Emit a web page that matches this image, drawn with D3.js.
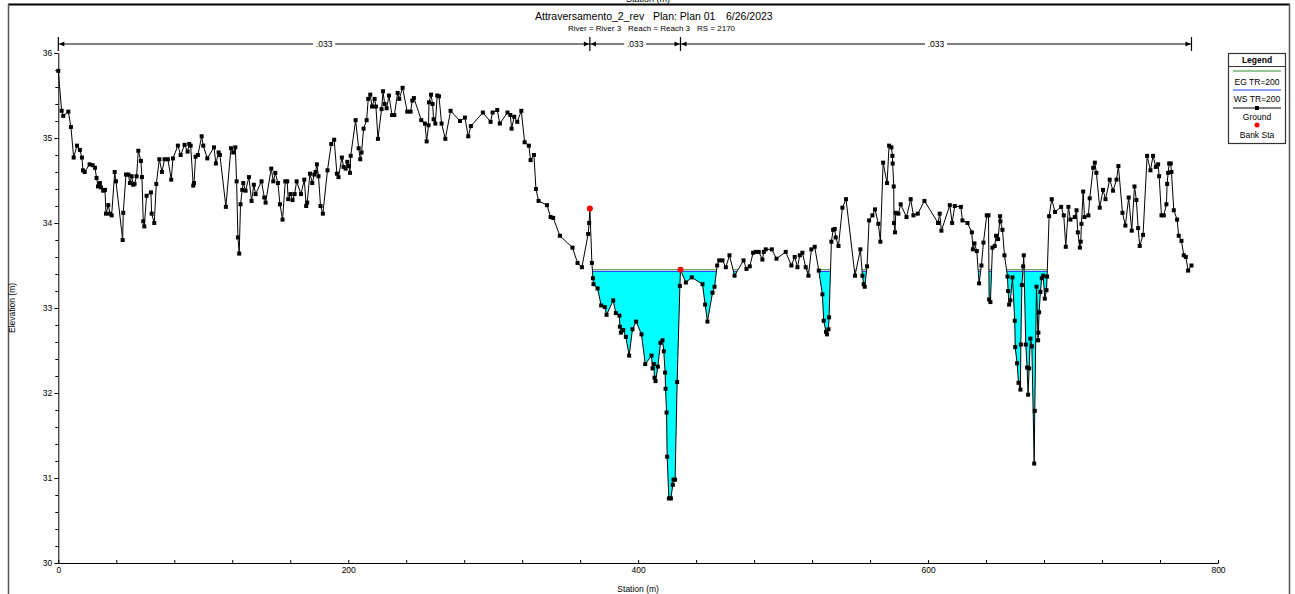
<!DOCTYPE html>
<html>
<head>
<meta charset="utf-8">
<script src="https://cdn.jsdelivr.net/npm/d3@7"></script>
<style>
  body { margin: 0; background: #fff; }
  svg text { font-family: "Liberation Sans", Arial, sans-serif; fill: #000; }
</style>
</head>
<body>
<svg id="chart" width="1295" height="594"></svg>
<script>
// ground points [station (m), elevation (m)]
var ground = [
  [0.0,35.79],[2.3,35.32],[3.4,35.26],[6.9,35.31],[8.7,35.13],[10.6,34.77],[12.9,34.91],[14.9,34.86],[16.3,34.77],[17.0,34.62],
  [18.2,34.60],[21.6,34.69],[23.7,34.68],[25.3,34.65],[26.4,34.53],[27.4,34.43],[28.7,34.47],[29.4,34.42],[31.0,34.38],[32.2,34.39],
  [32.9,34.11],[34.5,34.21],[35.6,34.11],[36.8,34.09],[38.9,34.60],[39.8,34.49],[44.4,33.80],[44.8,34.12],[46.7,34.57],[48.3,34.57],
  [49.4,34.47],[50.6,34.55],[51.7,34.45],[52.6,34.46],[54.0,34.55],[55.2,34.85],[57.0,34.73],[57.7,34.54],[58.6,34.02],[59.3,33.96],
  [60.9,34.32],[63.9,34.36],[64.4,34.11],[66.2,34.00],[67.6,34.46],[69.7,34.75],[71.5,34.60],[73.3,34.75],[75.6,34.75],[77.9,34.51],
  [79.1,34.76],[82.5,34.91],[84.4,34.80],[87.1,34.92],[89.2,34.84],[90.3,34.93],[91.3,34.91],[93.1,34.44],[93.6,34.47],[94.7,34.78],
  [96.3,34.80],[98.9,35.02],[100.0,34.91],[102.8,34.76],[107.4,34.89],[108.7,34.70],[110.6,34.83],[111.5,34.80],[115.6,34.19],[119.1,34.88],
  [120.7,34.83],[122.1,34.89],[123.0,34.49],[123.9,33.83],[124.8,33.64],[125.7,34.22],[126.9,34.39],[127.6,34.47],[129.2,34.38],[131.5,34.54],
  [133.3,34.26],[134.9,34.45],[136.1,34.34],[140.2,34.49],[142.1,34.30],[143.0,34.24],[146.9,34.64],[148.3,34.49],[149.7,34.59],[151.5,34.47],
  [152.9,34.22],[154.7,34.04],[156.6,34.49],[157.9,34.49],[158.6,34.28],[160.2,34.34],[161.6,34.27],[163.0,34.34],[164.4,34.49],[167.4,34.34],
  [169.7,34.51],[171.0,34.20],[171.7,34.24],[173.6,34.58],[175.2,34.47],[176.6,34.57],[177.5,34.60],[178.4,34.69],[179.5,34.55],[180.9,34.20],
  [182.5,34.11],[185.7,34.62],[188.3,34.93],[190.3,34.98],[192.2,34.58],[193.3,34.54],[195.6,34.77],[196.8,34.66],[198.2,34.64],[199.4,34.72],
  [200.5,34.67],[201.2,34.59],[201.7,34.79],[205.1,35.21],[207.2,34.88],[208.3,34.75],[209.2,34.83],[210.6,35.11],[212.7,35.21],[213.8,35.46],
  [215.2,35.51],[216.4,35.37],[218.2,35.46],[219.1,35.37],[220.5,34.99],[223.0,35.34],[224.0,35.55],[225.1,35.40],[226.5,35.35],[228.1,35.50],
  [230.2,35.27],[231.8,35.27],[234.1,35.53],[235.2,35.46],[237.5,35.59],[240.7,35.31],[243.0,35.31],[244.2,35.44],[245.3,35.47],[250.4,35.21],
  [252.9,35.17],[254.1,34.96],[255.4,35.15],[255.7,35.42],[257.1,35.51],[258.2,35.40],[258.9,35.22],[260.1,35.17],[261.4,35.50],[262.6,35.49],
  [264.4,35.17],[267.0,34.99],[270.6,35.32],[277.1,35.20],[280.5,35.24],[282.8,35.02],[284.6,35.14],[292.9,35.30],[298.2,35.19],[299.6,35.30],
  [302.8,35.33],[304.6,35.17],[309.9,35.30],[311.8,35.27],[312.7,35.11],[314.5,35.25],[316.6,35.19],[319.4,35.32],[321.7,34.95],[324.6,34.91],
  [325.8,34.74],[328.1,34.80],[329.5,34.40],[331.3,34.26],[337.1,34.21],[339.6,34.07],[341.4,34.06],[346.0,33.85],[354.7,33.71],[358.2,33.53],
  [361.2,33.48],[365.5,33.87],[366.2,34.00],[366.7,34.17],[368.1,33.53],[368.8,33.35],[369.2,33.28],[372.0,33.23],[374.5,33.03],[377.0,33.01],
  [378.2,32.92],[382.8,33.09],[384.6,32.94],[387.1,32.91],[387.4,32.78],[388.1,32.71],[389.7,32.74],[391.5,32.66],[393.8,32.44],[396.1,32.75],
  [398.6,32.84],[402.3,32.69],[404.9,32.34],[409.2,32.44],[409.9,32.29],[410.8,32.34],[411.3,32.18],[412.0,32.14],[413.6,32.31],[415.4,32.59],
  [416.8,32.62],[417.7,32.49],[418.6,32.24],[418.9,32.05],[419.6,31.77],[420.0,31.25],[421.2,30.76],[422.6,30.76],[423.9,30.92],[424.4,30.98],
  [425.5,30.98],[426.9,32.13],[428.8,33.26],[429.2,33.45],[432.9,33.30],[437.0,33.36],[444.4,33.28],[446.2,33.04],[447.8,32.84],[451.3,33.18],
  [452.7,33.25],[454.5,33.50],[455.9,33.56],[458.2,33.56],[460.5,33.48],[463.0,33.62],[466.5,33.38],[472.7,33.56],[474.7,33.46],[477.0,33.49],
  [479.3,33.65],[481.1,33.66],[483.2,33.66],[485.7,33.57],[486.7,33.66],[488.0,33.69],[492.2,33.69],[495.4,33.58],[501.8,33.66],[505.7,33.50],
  [508.0,33.60],[509.9,33.48],[511.5,33.62],[513.3,33.65],[515.6,33.48],[517.5,33.38],[519.5,33.69],[521.8,33.72],[524.6,33.44],[527.1,33.16],
  [528.0,32.85],[529.6,32.72],[530.3,32.69],[531.3,32.75],[531.7,32.89],[533.3,33.78],[534.5,33.92],[535.6,33.93],[536.3,33.83],[538.2,33.73],
  [540.9,34.18],[543.4,34.28],[549.6,33.38],[553.3,33.69],[554.7,33.38],[555.6,33.28],[556.3,33.25],[557.9,33.49],[559.3,34.03],[561.6,34.09],
  [563.4,34.16],[565.7,33.99],[567.1,33.78],[569.0,34.71],[571.7,34.47],[573.1,34.91],[574.7,34.89],[575.4,34.79],[575.6,34.70],[576.3,34.43],
  [576.5,34.00],[577.2,33.89],[577.7,34.12],[579.5,34.11],[581.1,34.22],[585.1,34.07],[588.0,34.28],[589.9,34.09],[592.9,34.11],[597.5,34.26],
  [606.9,34.00],[608.0,34.11],[609.2,33.91],[615.0,34.21],[616.6,34.00],[618.4,34.20],[622.6,34.19],[623.7,34.03],[627.2,34.00],[630.2,33.89],
  [630.9,33.69],[632.0,33.76],[633.6,33.67],[635.2,33.29],[636.8,33.50],[638.2,33.77],[640.5,34.09],[641.7,34.09],[642.1,33.10],[643.0,33.07],
  [644.4,33.71],[646.0,33.73],[646.9,33.85],[648.3,33.81],[649.7,34.08],[649.9,34.02],[651.3,33.92],[652.7,33.62],[654.8,33.37],[655.2,33.20],
  [655.9,33.04],[656.8,33.09],[658.2,33.36],[659.8,32.85],[660.1,32.54],[661.4,32.35],[662.4,32.12],[663.7,32.04],[664.0,32.57],[664.7,33.27],
  [665.6,33.49],[666.0,33.62],[667.4,32.57],[668.3,32.30],[669.0,31.98],[669.7,32.29],[670.6,32.64],[671.6,32.55],[673.2,31.17],[673.6,31.79],
  [674.8,33.25],[675.9,32.62],[676.1,32.71],[676.6,32.95],[677.5,33.19],[678.4,33.35],[679.4,33.38],[680.5,33.11],[681.7,33.21],[682.1,33.37],
  [683.5,34.08],[685.3,34.28],[687.6,34.13],[691.8,34.19],[693.6,34.09],[695.0,33.72],[696.8,34.19],[698.2,34.04],[701.2,34.07],[702.4,34.15],
  [703.3,33.89],[704.7,33.71],[705.3,33.78],[705.8,33.99],[707.0,34.37],[707.9,34.07],[710.6,34.09],[711.5,34.29],[713.9,34.65],[715.0,34.71],
  [716.1,34.59],[718.4,34.18],[720.7,34.39],[722.4,34.28],[725.3,34.51],[727.6,34.38],[730.0,34.51],[731.3,34.67],[734.1,34.12],[736.1,33.97],
  [738.4,34.30],[740.5,33.91],[742.4,34.43],[743.7,34.27],[744.9,33.94],[746.0,33.73],[748.3,33.86],[751.1,34.79],[753.4,34.62],[755.2,34.79],
  [757.1,34.66],[758.7,34.69],[759.4,34.55],[761.0,34.09],[762.6,34.09],[764.4,34.22],[764.9,34.46],[765.6,34.59],[766.3,34.70],[767.4,34.70],
  [767.9,34.60],[769.5,34.15],[771.8,34.04],[772.9,33.85],[774.8,33.79],[776.4,33.62],[777.8,33.60],[779.4,33.44],[781.7,33.50]
];

var bankSta = [366.7, 429.2];
var bankElev = [34.17, 33.45];
var wsElev = 33.43;   // WS TR=200
var egElev = 33.45;   // EG TR=200

var nBreaks = [0, 366.7, 429.2, 781.7];
var nLabels = [".033", ".033", ".033"];

var xTickValues = [0, 200, 400, 600, 800];
var yTickValues = [30, 31, 32, 33, 34, 35, 36];

var titleParts = ["Attraversamento_2_rev", "Plan: Plan 01", "6/26/2023"];
var subtitleParts = ["River = River 3", "Reach = Reach 3", "RS = 2170"];
var legendItems = ["EG TR=200", "WS TR=200", "Ground", "Bank Sta"];

var colors = { ws: "#1f3cff", eg: "#2e8b2e", water: "#00ffff", ground: "#000", bank: "#ff0000" };

var svg = d3.select("#chart");
var x = d3.scaleLinear().domain([0, 800]).range([58.3, 1218]);
var y = d3.scaleLinear().domain([30, 36]).range([563, 53]);

// window frame
svg.append("line").attr("x1", 8).attr("x2", 1290).attr("y1", 4.5).attr("y2", 4.5)
  .attr("stroke", "#000").attr("stroke-width", 2.2);
svg.append("line").attr("x1", 8.5).attr("x2", 8.5).attr("y1", 4).attr("y2", 594)
  .attr("stroke", "#555").attr("stroke-width", 1.5);
svg.append("line").attr("x1", 1289.5).attr("x2", 1289.5).attr("y1", 4).attr("y2", 594)
  .attr("stroke", "#555").attr("stroke-width", 1.5);
// cut-off label of the plot above
svg.append("text").attr("x", 648).attr("y", 1.5).attr("text-anchor", "middle")
  .style("font-size", "9px").text("Station (m)");

// titles
var tx = [535, 653, 726];
titleParts.forEach(function(t, i){
  svg.append("text").attr("x", tx[i]).attr("y", 20).style("font-size", "10.5px").text(t);
});
var sx = [568, 628, 697];
subtitleParts.forEach(function(t, i){
  svg.append("text").attr("x", sx[i]).attr("y", 31).style("font-size", "8px").text(t);
});

// axes
var yAxis = svg.append("g").attr("transform", "translate(" + x(0) + ",0)")
  .call(d3.axisLeft(y).tickValues(yTickValues).tickSize(4).tickSizeOuter(0).tickPadding(2).tickFormat(d3.format("d")));
svg.append("g").attr("transform", "translate(" + x(0) + ",0)")
  .call(d3.axisLeft(y).tickValues(d3.range(30, 36.01, 0.2)).tickSize(3).tickFormat(""))
  .select(".domain").remove();

var xAxis = svg.append("g").attr("transform", "translate(0," + y(30) + ")")
  .call(d3.axisBottom(x).tickValues(d3.range(0, 801, 40)).tickSize(-3).tickSizeOuter(0).tickPadding(4)
    .tickFormat(function(d){ return xTickValues.indexOf(d) >= 0 ? d : ""; }));

svg.selectAll(".tick text").style("font-size", "8.5px").attr("fill", "#000");
svg.selectAll(".domain, .tick line").attr("stroke", "#000");

svg.append("text").attr("transform", "translate(15," + ((y(30) + y(36)) / 2) + ") rotate(-90)")
  .attr("text-anchor", "middle").style("font-size", "8.5px").text("Elevation (m)");
svg.append("text").attr("x", (x(0) + x(800)) / 2).attr("y", 592).attr("text-anchor", "middle")
  .style("font-size", "8.5px").text("Station (m)");

// manning's n bar
var nY = 44;
var nb = svg.append("g");
nb.append("line").attr("x1", x(nBreaks[0])).attr("x2", x(nBreaks[nBreaks.length - 1]))
  .attr("y1", nY).attr("y2", nY).attr("stroke", "#000");
nBreaks.forEach(function(b){
  nb.append("line").attr("x1", x(b)).attr("x2", x(b)).attr("y1", nY - 7).attr("y2", nY + 7)
    .attr("stroke", "#000").attr("stroke-width", 1.2);
});
nLabels.forEach(function(lab, i){
  var a = x(nBreaks[i]), b = x(nBreaks[i + 1]);
  nb.append("path").attr("d", "M" + (a + 1) + "," + nY + "l5,-2.5l0,5z").attr("fill", "#000");
  nb.append("path").attr("d", "M" + (b - 1) + "," + nY + "l-5,-2.5l0,5z").attr("fill", "#000");
  var c = (a + b) / 2;
  nb.append("rect").attr("x", c - 11).attr("y", nY - 5).attr("width", 22).attr("height", 10).attr("fill", "#fff");
  nb.append("text").attr("x", c).attr("y", nY + 3).attr("text-anchor", "middle")
    .style("font-size", "8.5px").text(lab);
});

// wet segments: parts of the section below a level, with crossings interpolated
function wetSegments(level){
  var segs = [], cur = null;
  ground.forEach(function(p, i){
    if (p[1] < level) {
      if (!cur) {
        if (i > 0) {
          var q = ground[i - 1], t = (level - q[1]) / (p[1] - q[1]);
          cur = [[q[0] + t * (p[0] - q[0]), level]];
        } else cur = [[p[0], level]];
      }
      cur.push(p);
    } else if (cur) {
      var q2 = ground[i - 1], t2 = (level - q2[1]) / (p[1] - q2[1]);
      cur.push([q2[0] + t2 * (p[0] - q2[0]), level]);
      segs.push(cur); cur = null;
    }
  });
  if (cur) { cur.push([cur[cur.length - 1][0], level]); segs.push(cur); }
  return segs;
}

var line = d3.line().x(function(d){ return x(d[0]); }).y(function(d){ return y(d[1]); });

var wsSegs = wetSegments(wsElev);
svg.append("g").selectAll("path").data(wsSegs).enter().append("path")
  .attr("d", function(d){ return line(d) + "Z"; })
  .attr("fill", colors.water).attr("stroke", "none");

svg.append("g").selectAll("line").data(wetSegments(egElev)).enter().append("line")
  .attr("x1", function(d){ return x(d[0][0]); }).attr("x2", function(d){ return x(d[d.length - 1][0]); })
  .attr("y1", y(egElev)).attr("y2", y(egElev)).attr("stroke", colors.eg).attr("stroke-width", 1);

svg.append("g").selectAll("line").data(wsSegs).enter().append("line")
  .attr("x1", function(d){ return x(d[0][0]); }).attr("x2", function(d){ return x(d[d.length - 1][0]); })
  .attr("y1", y(wsElev)).attr("y2", y(wsElev)).attr("stroke", colors.ws).attr("stroke-width", 1);

// ground
svg.append("path").datum(ground).attr("d", line)
  .attr("fill", "none").attr("stroke", colors.ground).attr("stroke-width", 1);
svg.append("g").selectAll("rect").data(ground).enter().append("rect")
  .attr("x", function(d){ return x(d[0]) - 2; }).attr("y", function(d){ return y(d[1]) - 2; })
  .attr("width", 4).attr("height", 4).attr("fill", colors.ground);

// bank stations
svg.append("g").selectAll("circle").data(bankSta).enter().append("circle")
  .attr("cx", function(d){ return x(d); }).attr("cy", function(d, i){ return y(bankElev[i]); })
  .attr("r", 3).attr("fill", colors.bank);

// legend
var lg = svg.append("g");
var lx = 1228.5, lw = 57;
lg.append("rect").attr("x", lx).attr("y", 53.5).attr("width", lw).attr("height", 90)
  .attr("fill", "#fff").attr("stroke", "#333").attr("stroke-width", 1.2);
lg.append("text").attr("x", lx + lw / 2).attr("y", 63).attr("text-anchor", "middle")
  .style("font-size", "8.5px").style("font-weight", "bold").text("Legend");
lg.append("line").attr("x1", lx).attr("x2", lx + lw).attr("y1", 66.5).attr("y2", 66.5).attr("stroke", "#333");
var symY = [71, 90, 108, 125];
var txtY = [85, 102, 120, 138];
legendItems.forEach(function(name, i){
  var sy = symY[i];
  if (i === 0 || i === 1 || i === 2) {
    lg.append("line").attr("x1", lx + 4.5).attr("x2", lx + lw - 4.5).attr("y1", sy).attr("y2", sy)
      .attr("stroke", i === 0 ? colors.eg : i === 1 ? colors.ws : colors.ground).attr("stroke-width", 1);
  }
  if (i === 2) {
    lg.append("rect").attr("x", lx + lw / 2 - 2).attr("y", sy - 2).attr("width", 4).attr("height", 4).attr("fill", "#000");
  }
  if (i === 3) {
    lg.append("circle").attr("cx", lx + lw / 2).attr("cy", sy).attr("r", 2.5).attr("fill", colors.bank);
  }
  lg.append("text").attr("x", lx + lw / 2).attr("y", txtY[i]).attr("text-anchor", "middle")
    .style("font-size", "8.5px").text(name);
});
</script>
</body>
</html>
